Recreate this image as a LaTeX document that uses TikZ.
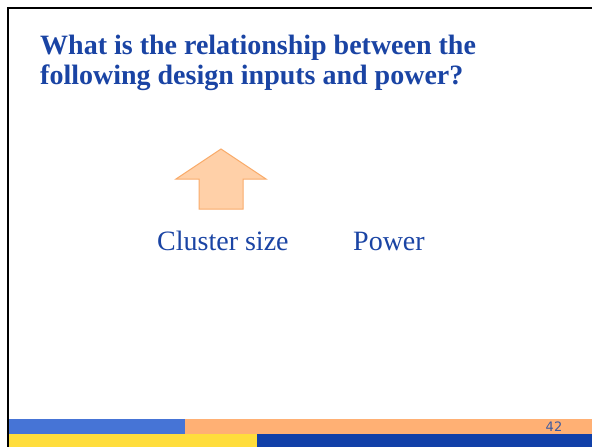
\documentclass[tikz,border=0pt]{standalone}
\usepackage{fontspec}
\setmainfont{Liberation Serif}
\newfontfamily\numfont{DejaVu Sans}
\definecolor{titleblue}{HTML}{1A44A4}
\definecolor{barblue}{HTML}{4674D6}
\definecolor{barorange}{HTML}{FFB074}
\definecolor{baryellow}{HTML}{FFDD3C}
\definecolor{bardark}{HTML}{1140A8}
\definecolor{arrowfill}{HTML}{FFD0A8}
\definecolor{arrowedge}{HTML}{F9AC6C}
\definecolor{numblue}{HTML}{3C5AA0}
\tikzset{
  label text/.style={text=titleblue, font=\fontsize{28}{32}\selectfont, inner sep=0pt},
}
\begin{document}
\begin{tikzpicture}[x=1pt, y=-1pt]
\useasboundingbox (0,0) rectangle (592,447);
\fill[white] (0,0) rectangle (592,447);

% slide frame
\draw[line width=2pt] (8,447) -- (8,8) -- (592,8);

% title
\node[text=titleblue, font=\fontsize{28}{30}\selectfont\bfseries, align=left,
  anchor=base west, inner sep=0pt] (title) at (40,84)
  {What is the relationship between the\\following design inputs and power?};

% up arrow
\filldraw[fill=arrowfill, draw=arrowedge, line width=1pt]
  (221,149) -- (266,179) -- (243,179) -- (243,209) -- (199,209) -- (199,179) -- (176,179) -- cycle;

\node[label text, anchor=base west] (cluster) at (157,250) {Cluster size};
\node[label text, anchor=base west] (power) at (353,250) {Power};

% footer bars
\fill[barblue] (9,419) rectangle (185,434);
\fill[barorange] (185,419) rectangle (592,434);
\fill[baryellow] (9,434) rectangle (257,447);
\fill[bardark] (257,434) rectangle (592,447);
\node[text=numblue, font=\numfont\fontsize{13}{14}\selectfont, inner sep=0pt] (pagenum) at (554,427) {42};
\end{tikzpicture}
\end{document}
